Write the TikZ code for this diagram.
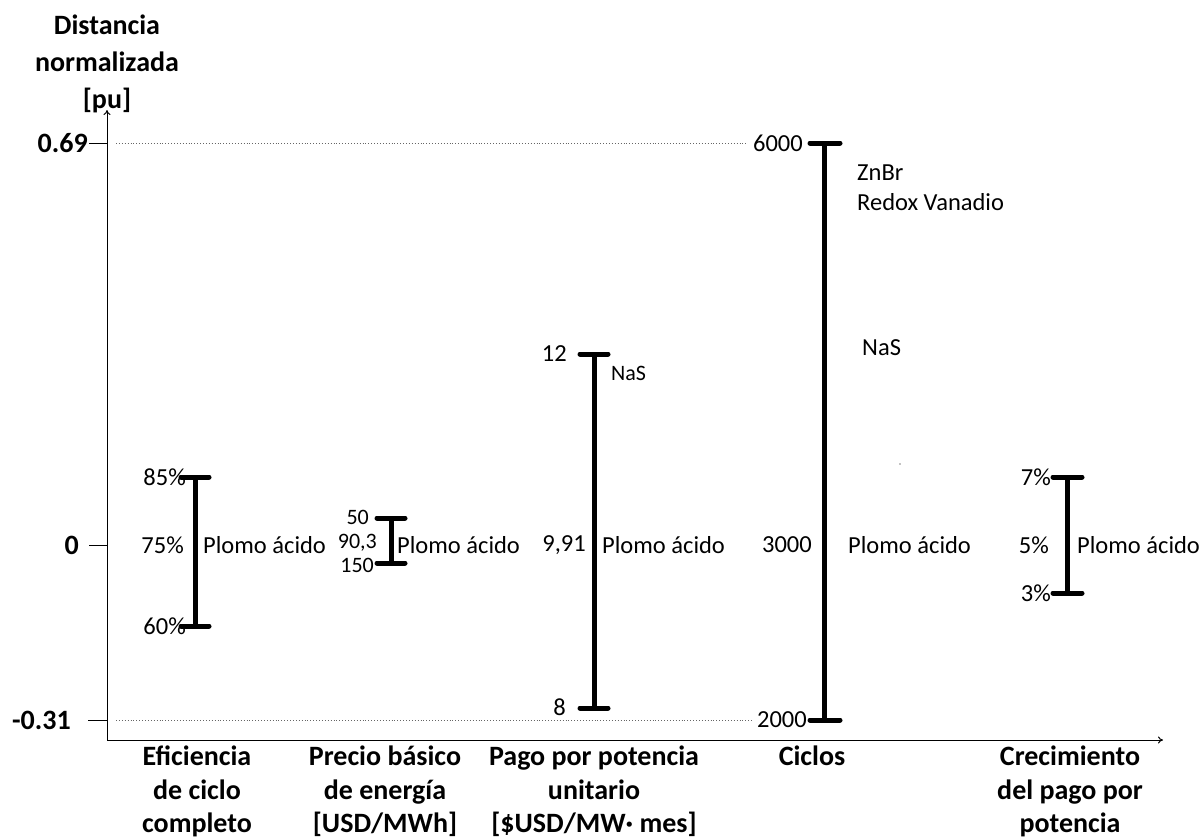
\documentclass[tikz,border=0pt]{standalone}
\usepackage{fontspec}
\setmainfont{Carlito}
\usetikzlibrary{arrows.meta}
\begin{document}
\begin{tikzpicture}[x=1pt,y=-1pt,
  axis/.style={line width=1pt,-{To[length=5pt,width=7pt]}},
  tickmark/.style={line width=1pt},
  guide/.style={line width=0.9pt,dotted,black!60},
  errbar/.style={line width=5pt},
  errcap/.style={line width=5pt,line cap=round},
  lbl/.style={font=\fontsize{24.5}{29}\selectfont,inner sep=0pt},
  smalllbl/.style={font=\fontsize{22}{26}\selectfont,inner sep=0pt},
  ttl/.style={font=\bfseries\fontsize{28}{33.5}\selectfont,align=center,inner sep=0pt},
  ytl/.style={font=\bfseries\fontsize{28}{37}\selectfont,align=center,inner sep=0pt}]
\useasboundingbox (0,0) rectangle (1204,839);

% axes
\coordinate (O) at (107,740);
\coordinate (ytip) at (107,110);
\coordinate (xtip) at (1163,740);
\draw[axis] (O) -- (ytip);
\draw[axis] (O) -- (xtip);
\node[ytl,anchor=south] (ytitle) at (107,113) {Distancia\\normalizada\\{[}pu{]}};

% ticks on the vertical axis
\coordinate (t1a) at (89,143);  \coordinate (t1b) at (107,143);
\coordinate (t2a) at (89,545);  \coordinate (t2b) at (107,545);
\coordinate (t3a) at (88,720);  \coordinate (t3b) at (107,720);
\draw[tickmark] (t1a) -- (t1b);
\draw[tickmark] (t2a) -- (t2b);
\draw[tickmark] (t3a) -- (t3b);
\node[ttl,anchor=east] (v1) at (88,143) {0.69};
\node[ttl,anchor=east] (v2) at (79,545) {0};
\node[ttl,anchor=east] (v3) at (71,720) {-0.31};

% dotted guides for the extreme values
\coordinate (g1a) at (116,143); \coordinate (g1b) at (748,143);
\coordinate (g3a) at (116,720); \coordinate (g3b) at (752,720);
\draw[guide] (g1a) -- (g1b);
\draw[guide] (g3a) -- (g3b);

% bar 1: eficiencia de ciclo completo
\coordinate (b1t) at (195,477); \coordinate (b1b) at (195,626);
\draw[errbar] (b1t) -- (b1b);
\draw[errcap] (b1t) ++(-14,0) -- ++(28,0);
\draw[errcap] (b1b) ++(-14,0) -- ++(28,0);
\node[lbl,anchor=east] (b1top) at (186,477) {85\%};
\node[lbl,anchor=east] (b1mid) at (184,545) {75\%};
\node[lbl,anchor=east] (b1bot) at (186,626) {60\%};
\node[lbl,anchor=west] (b1name) at (203,545) {Plomo ácido};

% bar 2: precio básico de energía
\coordinate (b2t) at (391,518); \coordinate (b2b) at (391,563);
\draw[errbar] (b2t) -- (b2b);
\draw[errcap] (b2t) ++(-14,0) -- ++(28,0);
\draw[errcap] (b2b) ++(-14,0) -- ++(28,0);
\node[smalllbl,anchor=east] (b2top) at (369,517) {50};
\node[smalllbl,anchor=east] (b2mid) at (377,543) {90,3};
\node[smalllbl,anchor=east] (b2bot) at (374,565) {150};
\node[lbl,anchor=west] (b2name) at (397,545) {Plomo ácido};

% bar 3: pago por potencia unitario
\coordinate (b3t) at (594,354); \coordinate (b3b) at (594,708);
\draw[errbar] (b3t) -- (b3b);
\draw[errcap] (b3t) ++(-14,0) -- ++(28,0);
\draw[errcap] (b3b) ++(-14,0) -- ++(28,0);
\node[lbl,anchor=east] (b3top) at (567,354) {12};
\node[smalllbl,anchor=west] (b3nas) at (611,373) {NaS};
\node[lbl,anchor=east] (b3mid) at (586,545) {9,91};
\node[lbl,anchor=west] (b3name) at (602,545) {Plomo ácido};
\node[lbl,anchor=east] (b3bot) at (566,707) {8};

% bar 4: ciclos
\coordinate (b4t) at (824,143); \coordinate (b4b) at (824,720);
\draw[errbar] (b4t) -- (b4b);
\draw[errcap] (b4t) ++(-14,0) -- ++(30,0);
\draw[errcap] (b4b) ++(-14,0) -- ++(30,0);
\node[lbl,anchor=east] (b4top) at (803,143) {6000};
\node[lbl,anchor=west] (b4zn) at (857,173) {ZnBr};
\node[lbl,anchor=west] (b4rv) at (857,202) {Redox Vanadio};
\node[lbl,anchor=west] (b4nas) at (862,348) {NaS};
\node[lbl,anchor=east] (b4mid) at (812,545) {3000};
\node[lbl,anchor=west] (b4name) at (848,545) {Plomo ácido};
\node[lbl,anchor=east] (b4bot) at (807,720) {2000};
\fill (900,464) circle (0.7pt);

% bar 5: crecimiento del pago por potencia
\coordinate (b5t) at (1067,477); \coordinate (b5b) at (1067,593);
\draw[errbar] (b5t) -- (b5b);
\draw[errcap] (b5t) ++(-14,0) -- ++(29,0);
\draw[errcap] (b5b) ++(-14,0) -- ++(29,0);
\node[lbl,anchor=east] (b5top) at (1051,477) {7\%};
\node[lbl,anchor=east] (b5mid) at (1049,545) {5\%};
\node[lbl,anchor=east] (b5bot) at (1051,593) {3\%};
\node[lbl,anchor=west] (b5name) at (1077,545) {Plomo ácido};

% category titles under the horizontal axis
\node[ttl,anchor=north] (c1) at (197,746) {Eficiencia\\de ciclo\\completo};
\node[ttl,anchor=north] (c2) at (385,746) {Precio básico\\de energía\\{[}USD/MWh{]}};
\node[ttl,anchor=north] (c3) at (594,746) {Pago por potencia\\unitario\\{[}\$USD/MW· mes{]}};
\node[ttl,anchor=north] (c4) at (812,746) {Ciclos};
\node[ttl,anchor=north] (c5) at (1070,746) {Crecimiento\\del pago por\\potencia};
\end{tikzpicture}
\end{document}
